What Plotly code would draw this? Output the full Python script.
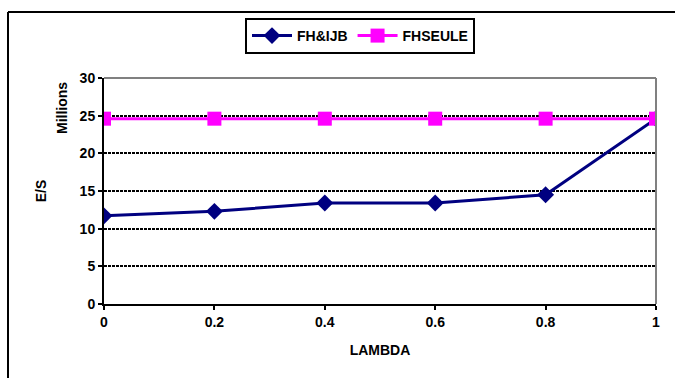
import plotly.graph_objects as go

# values (E/S in millions)
lambdas = [0, 0.2, 0.4, 0.6, 0.8, 1]
fh_ijb = [11.7, 12.3, 13.4, 13.4, 14.5, 24.6]
fh_seule = [24.6, 24.6, 24.6, 24.6, 24.6, 24.6]
y_ticks = [0, 5, 10, 15, 20, 25, 30]
x_ticks = [0, 0.2, 0.4, 0.6, 0.8, 1]

W, H = 675, 378
L, R, T, B = 104, 19, 78, 74
pw, ph = W - L - R, H - T - B

FONT = dict(family="Arial, Liberation Sans, sans-serif", size=14, color="black", weight="bold")


def px_x(x):
    return (x - L) / pw


def px_y(y):
    return (H - B - y) / ph


fig = go.Figure()
fig.add_trace(go.Scatter(
    x=lambdas, y=fh_ijb, name="FH&IJB", mode="lines+markers",
    line=dict(color="#000080", width=3),
    marker=dict(symbol="diamond", size=13, color="#000080"),
))
fig.add_trace(go.Scatter(
    x=lambdas, y=fh_seule, name="FHSEULE", mode="lines+markers",
    line=dict(color="#FF00FF", width=3),
    marker=dict(symbol="square", size=14, color="#FF00FF"),
))

fig.update_xaxes(
    range=[0, 1], tickvals=x_ticks, ticktext=[f"{v:g}" for v in x_ticks],
    showgrid=False, zeroline=False, showline=True, linecolor="black", linewidth=2,
    ticks="outside", ticklen=4, tickcolor="black", tickwidth=2,
    title=dict(text="LAMBDA", font=FONT, standoff=16), tickfont=FONT,
)
fig.update_yaxes(
    range=[0, 30], tickvals=y_ticks,
    showgrid=True, gridcolor="black", gridwidth=1.5, griddash="3px,1px",
    zeroline=False, showline=True, linecolor="black", linewidth=2,
    ticks="outside", ticklen=4, tickcolor="black", tickwidth=2,
    title=dict(text="E/S", font=FONT, standoff=30), tickfont=FONT,
)

fig.update_layout(
    width=W, height=H,
    margin=dict(l=L, r=R, t=T, b=B),
    paper_bgcolor="white", plot_bgcolor="white",
    font=FONT,
    showlegend=True,
    legend=dict(
        orientation="h", x=px_x(360), y=px_y(36), xanchor="center", yanchor="middle",
        bordercolor="black", borderwidth=2, bgcolor="white",
        font=FONT, itemwidth=40,
    ),
    shapes=[
        # gray top and right edges of plot area
        dict(type="line", xref="paper", yref="paper", x0=0, x1=1, y0=1, y1=1,
             line=dict(color="#808080", width=2)),
        dict(type="line", xref="paper", yref="paper", x0=1, x1=1, y0=0, y1=1,
             line=dict(color="#808080", width=2)),
        # outer chart frame (left and top edges visible)
        dict(type="line", xref="paper", yref="paper", x0=px_x(8), x1=px_x(8), y0=px_y(12), y1=px_y(400),
             line=dict(color="black", width=2)),
        dict(type="line", xref="paper", yref="paper", x0=px_x(8), x1=px_x(700), y0=px_y(12), y1=px_y(12),
             line=dict(color="black", width=2)),
    ],
    annotations=[
        dict(text="Millions", textangle=-90, xref="paper", yref="paper",
             x=px_x(62), y=px_y(108), xanchor="center", yanchor="middle",
             showarrow=False, font=FONT),
    ],
)

fig.write_html("out.html", config={"displayModeBar": False},
               post_script="document.body.style.margin='0';")
